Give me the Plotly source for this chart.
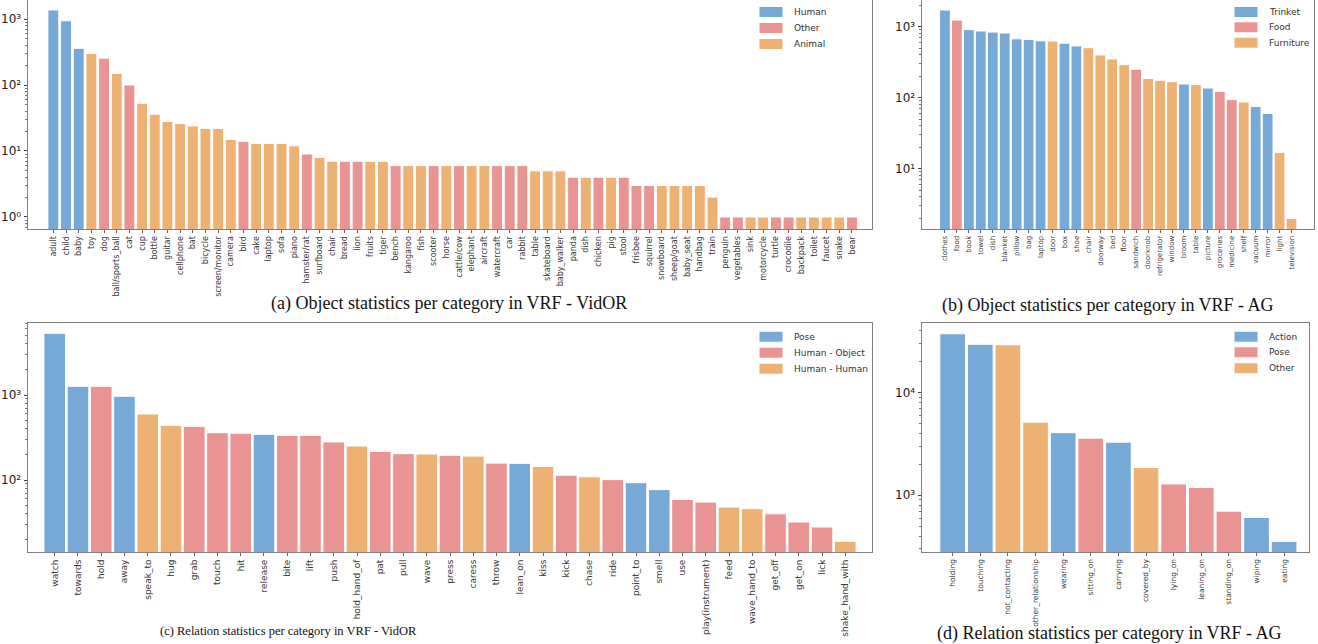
import plotly.graph_objects as go

W, H = 1318, 644

BLUE = "#77a9d7"
RED = "#e99392"
ORANGE = "#edb173"

# ---------------- (a) objects, VidOR ----------------
a_labels = ["adult", "child", "baby", "toy", "dog", "ball/sports_ball", "cat", "cup", "bottle", "guitar",
            "cellphone", "bat", "bicycle", "screen/monitor", "camera", "bird", "cake", "laptop", "sofa", "piano",
            "hamster/rat", "surfboard", "chair", "bread", "lion", "fruits", "tiger", "bench", "kangaroo", "fish",
            "scooter", "horse", "cattle/cow", "elephant", "aircraft", "watercraft", "car", "rabbit", "table",
            "skateboard", "baby_walker", "panda", "dish", "chicken", "pig", "stool", "frisbee", "squirrel",
            "snowboard", "sheep/goat", "baby_seat", "handbag", "train", "penguin", "vegetables", "sink",
            "motorcycle", "turtle", "crocodile", "backpack", "toilet", "faucet", "snake", "bear"]
a_values = [1370, 940, 360, 300, 255, 150, 100, 53, 36, 28,
            26, 24, 22, 22, 15, 14, 13, 13, 13, 12,
            9, 8, 7, 7, 7, 7, 7, 6, 6, 6,
            6, 6, 6, 6, 6, 6, 6, 6, 5,
            5, 5, 4, 4, 4, 4, 4, 3, 3,
            3, 3, 3, 3, 2, 1, 1, 1,
            1, 1, 1, 1, 1, 1, 1, 1]
a_groups = ["Human", "Human", "Human", "Animal", "Other", "Animal", "Other", "Animal", "Animal", "Animal",
            "Animal", "Animal", "Animal", "Animal", "Animal", "Other", "Animal", "Animal", "Animal", "Animal",
            "Other", "Animal", "Animal", "Other", "Other", "Animal", "Animal", "Other", "Animal", "Animal",
            "Other", "Animal", "Other", "Animal", "Animal", "Other", "Other", "Other", "Animal",
            "Animal", "Animal", "Other", "Animal", "Other", "Animal", "Other", "Other", "Other",
            "Animal", "Animal", "Animal", "Animal", "Animal", "Other", "Other", "Animal",
            "Animal", "Other", "Other", "Animal", "Animal", "Animal", "Animal", "Other"]
a_legend = ["Human", "Other", "Animal"]

# ---------------- (b) objects, AG ----------------
b_labels = ["clothes", "food", "book", "towel", "dish", "blanket", "pillow", "bag", "laptop", "door",
            "box", "shoe", "chair", "doorway", "bed", "floor", "sandwich", "doorknob", "refrigerator", "window",
            "broom", "table", "picture", "groceries", "medicine", "shelf", "vacuum", "mirror", "light", "television"]
b_values = [1720, 1240, 910, 870, 840, 815, 675, 662, 633, 628,
            585, 536, 506, 400, 351, 292, 252, 187, 176, 168,
            156, 153, 137, 123, 94, 87, 75, 60, 17, 2]
b_groups = ["Trinket", "Food", "Trinket", "Trinket", "Trinket", "Trinket", "Trinket", "Trinket", "Trinket", "Furniture",
            "Trinket", "Trinket", "Furniture", "Furniture", "Furniture", "Furniture", "Food", "Furniture", "Furniture", "Furniture",
            "Trinket", "Furniture", "Trinket", "Food", "Food", "Furniture", "Trinket", "Trinket", "Furniture", "Furniture"]
b_legend = ["Trinket", "Food", "Furniture"]

# ---------------- (c) relations, VidOR ----------------
c_labels = ["watch", "towards", "hold", "away", "speak_to", "hug", "grab", "touch", "hit", "release",
            "bite", "lift", "push", "hold_hand_of", "pat", "pull", "wave", "press", "caress", "throw",
            "lean_on", "kiss", "kick", "chase", "ride", "point_to", "smell", "use", "play(instrument)", "feed",
            "wave_hand_to", "get_off", "get_on", "lick", "shake_hand_with"]
c_values = [5320, 1265, 1265, 966, 598, 440, 428, 360, 354, 345,
            335, 335, 280, 251, 217, 204, 202, 195, 191, 158,
            157, 144, 114, 109, 101, 93, 77, 59, 55, 48,
            46, 40, 32, 28, 19]
c_groups = ["Pose", "Pose", "Human - Object", "Pose", "Human - Human", "Human - Human", "Human - Object",
            "Human - Object", "Human - Object", "Pose",
            "Human - Object", "Human - Object", "Human - Object", "Human - Human", "Human - Object",
            "Human - Object", "Human - Human", "Human - Object", "Human - Human", "Human - Object",
            "Pose", "Human - Human", "Human - Object", "Human - Human", "Human - Object", "Pose", "Pose",
            "Human - Object", "Human - Object", "Human - Human",
            "Human - Human", "Human - Object", "Human - Object", "Human - Object", "Human - Human"]
c_legend = ["Pose", "Human - Object", "Human - Human"]

# ---------------- (d) relations, AG ----------------
d_labels = ["holding", "touching", "not_contacting", "other_relationship", "wearing", "sitting_on",
            "carrying", "covered_by", "lying_on", "leaning_on", "standing_on", "wiping", "eating"]
d_values = [37500, 29600, 29300, 5150, 4075, 3600, 3290, 1863, 1290, 1190, 700, 607, 355]
d_groups = ["Action", "Action", "Other", "Other", "Action", "Pose", "Action", "Other", "Pose", "Pose",
            "Pose", "Action", "Action"]
d_legend = ["Action", "Pose", "Other"]

PALETTE = [BLUE, RED, ORANGE]
SUPERSCRIPT = str.maketrans("0123456789", "⁰¹²³⁴⁵⁶⁷⁸⁹")


def px_x(p):
    return p / W


def px_y(p):
    return 1 - p / H


# panel boxes in pixels: left, top, right, bottom
panels = [
    dict(labels=a_labels, values=a_values, groups=a_groups, legend=a_legend,
         box=(28, 0, 872, 229), yrange=(-0.182, 3.288), xrange=(-2.0, 64.58),
         width=0.86, tickfont=8, exps=[0, 1, 2, 3],
         title="(a) Object statistics per category in VRF - VidOR", title_xy=(449, 303), title_size=18,
         leg_x=759, leg_y=(12, 28, 44)),
    dict(labels=b_labels, values=b_values, groups=b_groups, legend=b_legend,
         box=(922, 0, 1314, 229), yrange=(0.151, 3.376), xrange=(-1.92, 30.88),
         width=0.9, tickfont=7, exps=[1, 2, 3],
         title="(b) Object statistics per category in VRF - AG", title_xy=(1108, 306), title_size=18,
         leg_x=1234, leg_y=(12, 27.3, 42.7)),
    dict(labels=c_labels, values=c_values, groups=c_groups, legend=c_legend,
         box=(28, 323, 872, 552), yrange=(1.153, 3.847), xrange=(-1.15, 35.15),
         width=0.93, tickfont=9, exps=[2, 3],
         title="(c) Relation statistics per category in VRF - VidOR", title_xy=(288, 631), title_size=12.5,
         leg_x=759, leg_y=(336.7, 352.7, 368.7)),
    dict(labels=d_labels, values=d_values, groups=d_groups, legend=d_legend,
         box=(922, 323, 1309, 552), yrange=(2.447, 4.679), xrange=(-1.11, 12.9),
         width=0.93, tickfont=7.5, exps=[3, 4],
         title="(d) Relation statistics per category in VRF - AG", title_xy=(1109, 633), title_size=18,
         leg_x=1234, leg_y=(336.7, 352.3, 368.3)),
]

fig = go.Figure()
shapes = []
annotations = []

for k, p in enumerate(panels, start=1):
    xa = "x" if k == 1 else f"x{k}"
    ya = "y" if k == 1 else f"y{k}"
    for g, col in zip(p["legend"], PALETTE):
        idx = [i for i, gg in enumerate(p["groups"]) if gg == g]
        fig.add_trace(go.Bar(
            x=idx, y=[p["values"][i] for i in idx],
            width=p["width"], marker=dict(color=col, line=dict(color="white", width=1)),
            name=g, showlegend=False, xaxis=xa, yaxis=ya,
        ))

    l, t, r, b = p["box"]
    xkey = "xaxis" if k == 1 else f"xaxis{k}"
    ykey = "yaxis" if k == 1 else f"yaxis{k}"
    lo, hi = p["yrange"]
    # minor log ticks (2..9 within each decade) that fall inside the visible range
    minor_vals = [m * 10 ** e for e in range(int(lo) - 1, int(hi) + 2) for m in range(2, 10)
                  if 10 ** lo < m * 10 ** e < 10 ** hi]
    fig.update_layout(**{
        xkey: dict(domain=[px_x(l), px_x(r)], anchor=ya, range=list(p["xrange"]),
                   tickmode="array", tickvals=list(range(len(p["labels"]))), ticktext=p["labels"],
                   tickangle=-90, tickfont=dict(family="DejaVu Sans", size=p["tickfont"], color="#3a3a3a"),
                   ticks="outside", ticklen=3, tickcolor="#666", showgrid=False, zeroline=False,
                   showline=True, linecolor="#808080", linewidth=1, mirror=True, automargin=False),
        ykey: dict(domain=[px_y(b), px_y(t)], anchor=xa, type="log", range=[lo, hi],
                   tickmode="array", tickvals=[10 ** e for e in p["exps"]],
                   ticktext=["10" + str(e).translate(SUPERSCRIPT) for e in p["exps"]],
                   tickfont=dict(family="DejaVu Sans", size=12, color="#222"),
                   ticks="outside", ticklen=3.5, tickcolor="#444", showgrid=False, zeroline=False,
                   minor=dict(tickmode="array", tickvals=minor_vals, ticks="outside", ticklen=2,
                              tickcolor="#777", showgrid=False),
                   showline=True, linecolor="#808080", linewidth=1, mirror=True, automargin=False),
    })

    # legend: colour patch + group name
    for g, col, yy in zip(p["legend"], PALETTE, p["leg_y"]):
        x0 = p["leg_x"]
        shapes.append(dict(type="rect", xref="paper", yref="paper",
                           x0=px_x(x0), x1=px_x(x0 + 24), y0=px_y(yy + 5.5), y1=px_y(yy - 5.5),
                           fillcolor=col, line=dict(color="white", width=1), layer="above"))
        annotations.append(dict(xref="paper", yref="paper", x=px_x(x0 + 33), y=px_y(yy),
                                xanchor="left", yanchor="middle", showarrow=False, text=g,
                                font=dict(family="DejaVu Sans", size=9, color="#333")))

    tx, ty = p["title_xy"]
    annotations.append(dict(xref="paper", yref="paper", x=px_x(tx), y=px_y(ty),
                            xanchor="center", yanchor="middle", showarrow=False, text=p["title"],
                            font=dict(family="Liberation Serif", size=p["title_size"], color="#111")))

fig.update_layout(
    width=W, height=H, margin=dict(l=0, r=0, t=0, b=0),
    paper_bgcolor="white", plot_bgcolor="white",
    barmode="overlay", showlegend=False,
    shapes=shapes, annotations=annotations,
)

fig.write_html("out.html", config={"displayModeBar": False})
